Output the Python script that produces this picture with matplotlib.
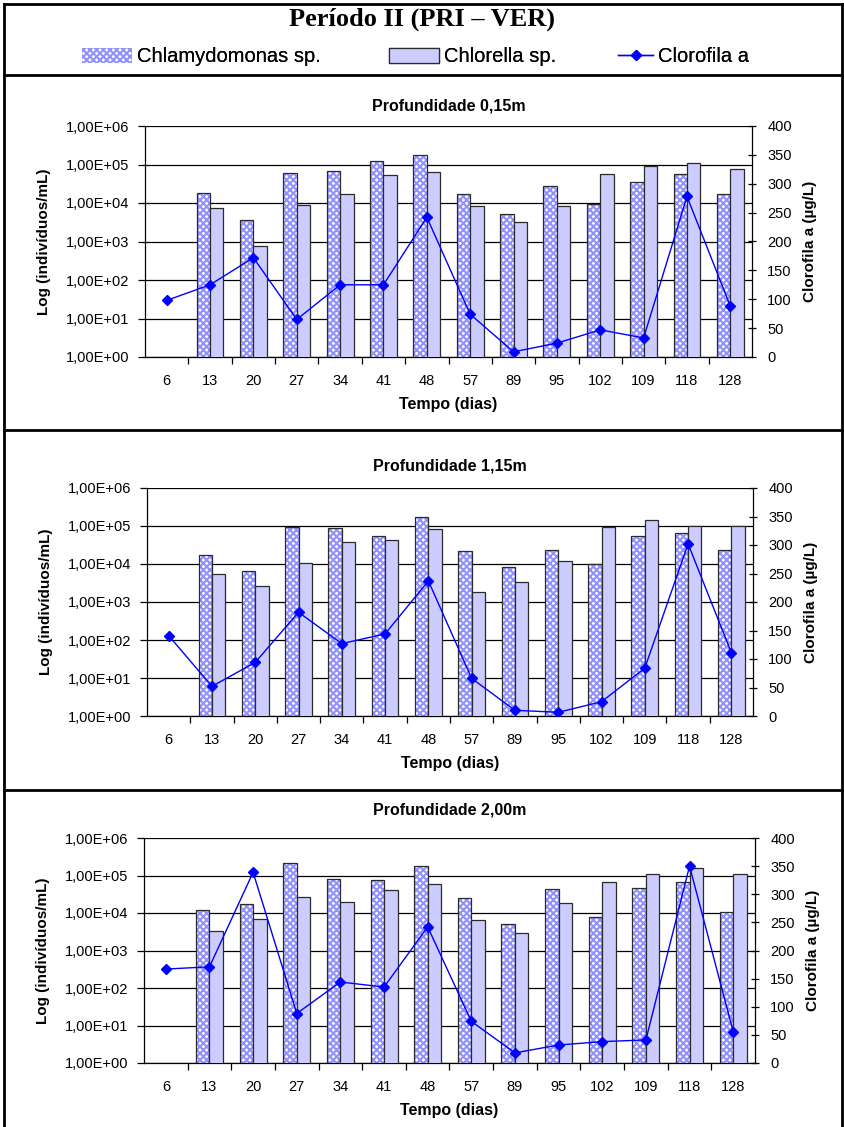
import numpy as np
import matplotlib
matplotlib.use("Agg")
import matplotlib.pyplot as plt
from matplotlib.lines import Line2D
from matplotlib.patches import Patch
from matplotlib.ticker import FixedLocator, FuncFormatter, NullFormatter

# ---------------- data ----------------
dias = ["6", "13", "20", "27", "34", "41", "48", "57", "89", "95", "102", "109", "118", "128"]
titulos = ["Profundidade 0,15m", "Profundidade 1,15m", "Profundidade 2,00m"]

chlamy_015 = [np.nan, 1.8e4, 3.6e3, 5.9e4, 6.7e4, 1.24e5, 1.74e5, 1.7e4, 5.3e3, 2.7e4, 9.3e3, 3.5e4, 5.6e4, 1.7e4]
chlor_015 = [np.nan, 7.6e3, 7.6e2, 8.9e3, 1.7e4, 5.3e4, 6.4e4, 8.5e3, 3.2e3, 8.5e3, 5.6e4, 9.0e4, 1.1e5, 7.6e4]
clorof_015 = [98, 125, 172, 65, 125, 125, 242, 74, 9, 24, 47, 33, 278, 88]

chlamy_115 = [np.nan, 1.74e4, 6.4e3, 9.5e4, 8.8e4, 5.6e4, 1.75e5, 2.2e4, 8.5e3, 2.4e4, 9.8e3, 5.3e4, 6.5e4, 2.35e4]
chlor_115 = [np.nan, 5.4e3, 2.6e3, 1.05e4, 3.7e4, 4.2e4, 8.3e4, 1.8e3, 3.4e3, 1.2e4, 9.5e4, 1.4e5, 1.0e5, 1.0e5]
clorof_115 = [141, 52, 94, 182, 127, 144, 237, 66, 10, 6.5, 25, 84, 302, 111]

chlamy_200 = [np.nan, 1.2e4, 1.75e4, 2.1e5, 8.3e4, 7.6e4, 1.74e5, 2.5e4, 5.0e3, 4.4e4, 7.8e3, 4.7e4, 6.8e4, 1.07e4]
chlor_200 = [np.nan, 3.4e3, 6.8e3, 2.7e4, 2.0e4, 4.1e4, 6.1e4, 6.5e3, 2.9e3, 1.8e4, 6.8e4, 1.1e5, 1.6e5, 1.1e5]
clorof_200 = [167, 171, 339, 88, 144, 135, 242, 74, 18, 32, 38, 41, 350, 56]

left_ticks = [1e0, 1e1, 1e2, 1e3, 1e4, 1e5, 1e6]
right_ticks = [0, 50, 100, 150, 200, 250, 300, 350, 400]

paineis = [
    (titulos[0], chlamy_015, chlor_015, clorof_015),
    (titulos[1], chlamy_115, chlor_115, clorof_115),
    (titulos[2], chlamy_200, chlor_200, clorof_200),
]

# ---------------- layout (pixels) ----------------
W, H = 844, 1127
FONT = "Liberation Sans"
plt.rcParams["font.family"] = [FONT, "DejaVu Sans"]
plt.rcParams["hatch.linewidth"] = 1.5

fig = plt.figure(figsize=(W / 100, H / 100), dpi=100)

def rect(l, t, r, b):
    return [l / W, 1 - b / H, (r - l) / W, (b - t) / H]

def fline(x0, y0, x1, y1, lw=2.0):
    fig.add_artist(Line2D([x0 / W, x1 / W], [1 - y0 / H, 1 - y1 / H],
                          transform=fig.transFigure, color="black", lw=lw))

# frame and separators
fline(4, 4, 842, 4)
fline(4, 4, 4, H + 5)
fline(842, 4, 842, H + 5)
for ysep in (75, 430, 790):
    fline(4, ysep, 842, ysep)

axes_px = [(145, 126, 752, 357), (147, 488, 753, 716), (144, 838, 755, 1063)]
title_y = [106, 466, 810]

sci = FuncFormatter(lambda v, p: f"{v:.2E}".replace(".", ","))

x = np.arange(len(dias))
bw = 0.31
c_chlamy_h = "#9090ff"
c_chlor = "#ccccff"

for i, (tit, chl, cho, clo) in enumerate(paineis):
    l, t, r, b = axes_px[i]
    ax = fig.add_axes(rect(l, t, r, b))
    ax.set_yscale("log")
    # Chlamydomonas: checkered look (hatch) + outline
    ax.bar(x - bw / 2, chl, width=bw, facecolor="white", edgecolor=c_chlamy_h,
           hatch="xxxxx", linewidth=0, zorder=2)
    ax.bar(x - bw / 2, chl, width=bw, facecolor="none", edgecolor="#2a2a2a",
           linewidth=0.9, zorder=3)
    ax.bar(x + bw / 2, cho, width=bw, facecolor=c_chlor, edgecolor="#2a2a2a",
           linewidth=0.9, zorder=3)
    ax.set_ylim(1, 1e6)
    ax.set_xlim(-0.5, len(dias) - 0.5)
    ax.yaxis.set_major_locator(FixedLocator(left_ticks))
    ax.yaxis.set_minor_locator(FixedLocator([]))
    ax.yaxis.set_major_formatter(sci)
    ax.grid(axis="y", color="black", lw=0.9, zorder=1)
    ax.set_axisbelow(True)
    ax.xaxis.set_major_locator(FixedLocator(np.arange(0.5, len(dias) - 1, 1.0)))
    ax.xaxis.set_major_formatter(NullFormatter())
    ax.xaxis.set_minor_locator(FixedLocator(x))
    ax.set_xticklabels(dias, minor=True)
    ax.tick_params(axis="x", which="minor", length=0, pad=12, labelsize=10.5)
    ax.tick_params(axis="x", which="major", length=5, width=0.9, direction="out")
    ax.tick_params(axis="y", which="major", length=5, width=0.9, direction="out",
                   labelsize=10.5, pad=6)
    for s in ("top", "right"):
        ax.spines[s].set_visible(False)
    for s in ("left", "bottom"):
        ax.spines[s].set_linewidth(0.9)
    ax.set_ylabel("Log (indivíduos/mL)", fontsize=11, fontweight="bold", labelpad=11)
    ax.set_xlabel("Tempo (dias)", fontsize=11.5, fontweight="bold", labelpad=7)

    ax2 = ax.twinx()
    ax2.plot(x, clo, color="#0000ff", lw=1.0, marker="D", markersize=5,
             markerfacecolor="#0000ff", markeredgecolor="#0000ff", zorder=5)
    ax2.set_ylim(0, 400)
    ax2.yaxis.set_major_locator(FixedLocator(right_ticks))
    ax2.tick_params(axis="y", length=6, width=0.9, direction="inout", labelsize=10.5, pad=8)
    for s in ("top", "left", "bottom"):
        ax2.spines[s].set_visible(False)
    ax2.spines["right"].set_linewidth(0.9)
    ax2.set_ylabel("Clorofila a (µg/L)", fontsize=11, fontweight="bold", labelpad=8)

    fig.text((l + r) / 2 / W, 1 - title_y[i] / H, tit, ha="center", va="center",
             fontsize=11.5, fontweight="bold")

# title and legend
fig.text(0.5, 1 - 19 / H, "Período II (PRI – VER)", ha="center", va="center",
         family=["Liberation Serif", "DejaVu Serif"], fontweight="bold", fontsize=19)

handles = [
    Patch(facecolor="white", edgecolor=c_chlamy_h, hatch="xxxxx", linewidth=0),
    Patch(facecolor=c_chlor, edgecolor="#2a2a2a", linewidth=0.9),
    Line2D([], [], color="#0000ff", lw=1.0, marker="D", markersize=5),
]
labels = ["Chlamydomonas sp.", "Chlorella sp.", "Clorofila a"]
leg_x = [82, 389, 618]
hlen = [2.5, 2.5, 1.75]
for h, lab, lx, hl in zip(handles, labels, leg_x, hlen):
    lg = fig.legend([h], [lab], loc="center left", bbox_to_anchor=(lx / W, 1 - 57 / H),
                    frameon=False, fontsize=14.5, handlelength=hl, handletextpad=0.25,
                    handleheight=0.7, borderpad=0, borderaxespad=0)
    fig.add_artist(lg)

fig.savefig("out.png", dpi=100)
